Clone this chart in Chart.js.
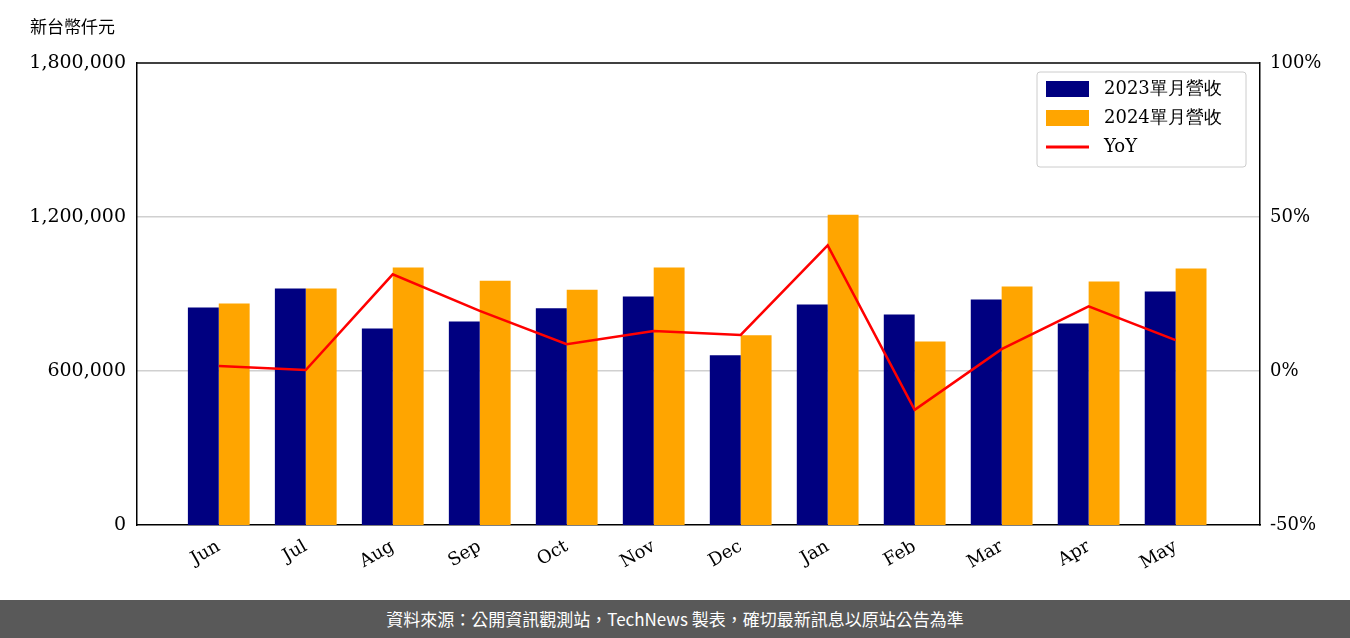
<!DOCTYPE html>
<html>
<head>
<meta charset="utf-8">
<script src="https://cdn.jsdelivr.net/npm/chart.js@4"></script>
<style>
  body { margin: 0; background: #fff; }
  #wrap { position: relative; width: 1350px; height: 600px; }
  #foot { width: 1350px; height: 38px; background: #595959; color: #fff; font: 17px "Noto Sans CJK TC", sans-serif; text-align: center; line-height: 38px; }
</style>
</head>
<body>
<div id="wrap"><canvas id="c"></canvas></div>
<div id="foot">資料來源：公開資訊觀測站，TechNews 製表，確切最新訊息以原站公告為準</div>
<script>
// monthly revenue, NT$ thousand
const months = ['Jun', 'Jul', 'Aug', 'Sep', 'Oct', 'Nov', 'Dec', 'Jan', 'Feb', 'Mar', 'Apr', 'May'];
const rev2023 = [847000, 921000, 766000, 793000, 844000, 890000, 661000, 859000, 820000, 879000, 785000, 910000];
const rev2024 = [863000, 921000, 1003000, 952000, 917000, 1003000, 739000, 1209000, 715000, 929000, 949000, 999000];
const yoy = [1.6, 0.3, 31.4, 19.5, 8.7, 13.0, 11.7, 40.8, -12.6, 7.1, 21.0, 10.0];
const leftTicks = [0, 600000, 1200000, 1800000];
const rightTicks = [-50, 0, 50, 100];

const serif = '"DejaVu Serif", serif';
const pts = arr => arr.map((v, i) => ({ x: i, y: v }));

const legendBox = {
  id: 'legendBox',
  afterDraw(chart) {
    const ctx = chart.ctx;
    const a = chart.chartArea;
    ctx.save();
    // top frame line
    ctx.strokeStyle = '#000';
    ctx.lineWidth = 1.5;
    ctx.beginPath();
    ctx.moveTo(a.left, a.top);
    ctx.lineTo(a.right, a.top);
    ctx.stroke();

    const x = 1037, y = 72, w = 209, h = 95;
    ctx.fillStyle = 'rgba(255,255,255,0.85)';
    ctx.strokeStyle = '#ccc';
    ctx.lineWidth = 1;
    ctx.beginPath();
    ctx.roundRect(x, y, w, h, 3);
    ctx.fill();
    ctx.stroke();
    ctx.font = '18px ' + serif;
    ctx.textBaseline = 'middle';
    const items = [chart.data.datasets[1], chart.data.datasets[2], chart.data.datasets[0]];
    items.forEach((ds, i) => {
      const cy = y + 17 + i * 29;
      if (ds.type === 'line') {
        ctx.strokeStyle = ds.borderColor;
        ctx.lineWidth = 3;
        ctx.beginPath();
        ctx.moveTo(x + 9, cy);
        ctx.lineTo(x + 52, cy);
        ctx.stroke();
      } else {
        ctx.fillStyle = ds.backgroundColor;
        ctx.fillRect(x + 9, cy - 8, 43, 16);
      }
      ctx.fillStyle = '#000';
      ctx.fillText(ds.label, x + 67, cy);
    });
    ctx.font = '17px "Noto Sans CJK TC", sans-serif';
    ctx.fillText('新台幣仟元', 30, 27);
    ctx.restore();
  }
};

new Chart(document.getElementById('c'), {
  data: {
    datasets: [
      { type: 'line', label: 'YoY', data: pts(yoy), yAxisID: 'y1', borderColor: '#ff0000', borderWidth: 2.5, pointRadius: 0, tension: 0, order: 0 },
      { type: 'bar', label: '2023單月營收', data: pts(rev2023), yAxisID: 'y', backgroundColor: '#000080', categoryPercentage: 0.71, barPercentage: 1, order: 1 },
      { type: 'bar', label: '2024單月營收', data: pts(rev2024), yAxisID: 'y', backgroundColor: '#ffa500', categoryPercentage: 0.71, barPercentage: 1, order: 1 }
    ]
  },
  options: {
    responsive: true,
    maintainAspectRatio: false,
    animation: false,
    layout: { padding: { top: 63, left: 0, right: 0, bottom: 0 } },
    plugins: { legend: { display: false }, tooltip: { enabled: false } },
    scales: {
      x: {
        type: 'linear', min: -0.94, max: 11.97, offset: false,
        afterBuildTicks: s => { s.ticks = months.map((m, i) => ({ value: i })); },
        grid: { display: false },
        border: { color: '#000', width: 1.5 },
        ticks: { color: '#000', font: { family: serif, size: 18 }, maxRotation: 30, minRotation: 30, autoSkip: false, callback: v => months[v] },
        afterFit: s => { s.height = 75; }
      },
      y: {
        position: 'left', min: 0, max: 1800000,
        afterBuildTicks: s => { s.ticks = leftTicks.map(v => ({ value: v })); },
        grid: { display: false },
        border: { color: '#000', width: 1.5 },
        ticks: { color: '#000', font: { family: serif, size: 19 }, callback: v => v.toLocaleString('en-US') },
        afterFit: s => { s.width = 137; }
      },
      y1: {
        position: 'right', min: -50, max: 100,
        afterBuildTicks: s => { s.ticks = rightTicks.map(v => ({ value: v })); },
        grid: { color: c => (c.tick && (c.tick.value === 0 || c.tick.value === 50)) ? '#d0d0d0' : 'rgba(0,0,0,0)', lineWidth: 1.5, drawTicks: false },
        border: { color: '#000', width: 1.5 },
        ticks: { color: '#000', font: { family: serif, size: 18 }, padding: 10, callback: v => v + '%' },
        afterFit: s => { s.width = 90; }
      }
    }
  },
  plugins: [legendBox]
});
</script>
</body>
</html>
